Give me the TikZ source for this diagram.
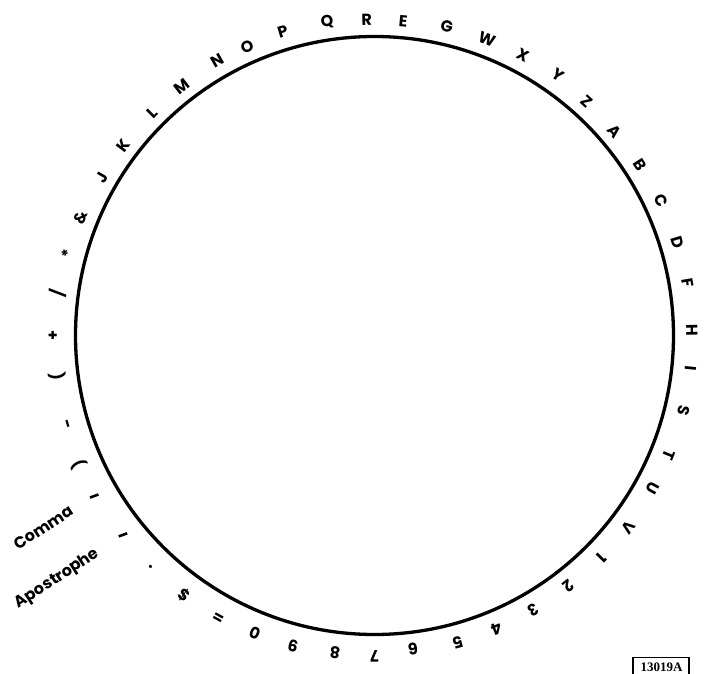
\documentclass[tikz,border=0pt]{standalone}
\usepackage{fontspec}
\setmainfont{Poppins}
\newfontfamily\idfont{Liberation Serif}
\begin{document}
\begin{tikzpicture}[x=1pt,y=1pt,
  glyph/.style={font=\bfseries\fontsize{16}{16}\selectfont, inner sep=0pt},
  dashmark/.style={line width=2.6pt},
  ringline/.style={line width=3.3pt}]
\useasboundingbox (0,0) rectangle (705,-674);
\coordinate (O) at (374.5,-335.5);
\node[circle, draw, ringline, minimum size=598pt, inner sep=0pt] (ring) at (O) {};
\foreach \a/\r/\c [count=\i] in {91.4/316/R, 84.8/316/E, 76.8/317/G, 69.2/317/W, 62.1/317/X, 54.8/319/Y, 47.7/316/Z, 40.3/315/A, 32.7/316/B, 25.2/317/C, 17/317/D, 9.5/318/F, 1/318/H, -5.9/318/I, -13.6/318/S, -22/318/T, -28.8/317/U, -37.1/318/V, -44.4/318/1, -52.2/317/2, -60/317/3, -67.4/318/4, -74.8/318/5, -83/316/6, -90/321/7, -97.1/320/8, -104.7/321/9, -111.9/321/0, -119/321/=, -126.4/322/{\$}, -134/322/., -156.5/322/), -164/317/-, -172.6/320/(, 180/321/+, 172.4/319/{/}, 165.1/317/*, 158.1/317/{\&}, 150/315/J, 142.9/315/K, 134.9/315/L, 127.8/315/M, 119.8/317/N, 113.8/316/O, 106.8/317/P, 98.6/317/Q}
  \node[glyph, rotate=\a-90] (g\i) at ([shift={(\a:\r)}]O) {\c};
% apostrophe and comma marks
\coordinate (apos) at ([shift={(-141.6:321)}]O);
\coordinate (comm) at ([shift={(-150.2:323)}]O);
\draw[dashmark] ([shift={(20:4.5)}]apos) -- ([shift={(200:4.5)}]apos);
\draw[dashmark] ([shift={(20:4.5)}]comm) -- ([shift={(200:4.5)}]comm);
\node[glyph, rotate=33] (commalabel) at (43.5,-527.5) {Comma};
\node[glyph, rotate=33] (aposlabel) at (57.5,-579) {Apostrophe};
% figure number
\node[font=\idfont\bfseries\fontsize{13}{13}\selectfont, inner sep=0pt] (fig) at (661.5,-667) {13019A};
\coordinate (b1) at (633,-676);
\coordinate (b2) at (633,-657.5);
\coordinate (b3) at (689,-657.5);
\coordinate (b4) at (689,-676);
\draw[line width=1.2pt] (b1) -- (b2) -- (b3) -- (b4);
\end{tikzpicture}
\end{document}
